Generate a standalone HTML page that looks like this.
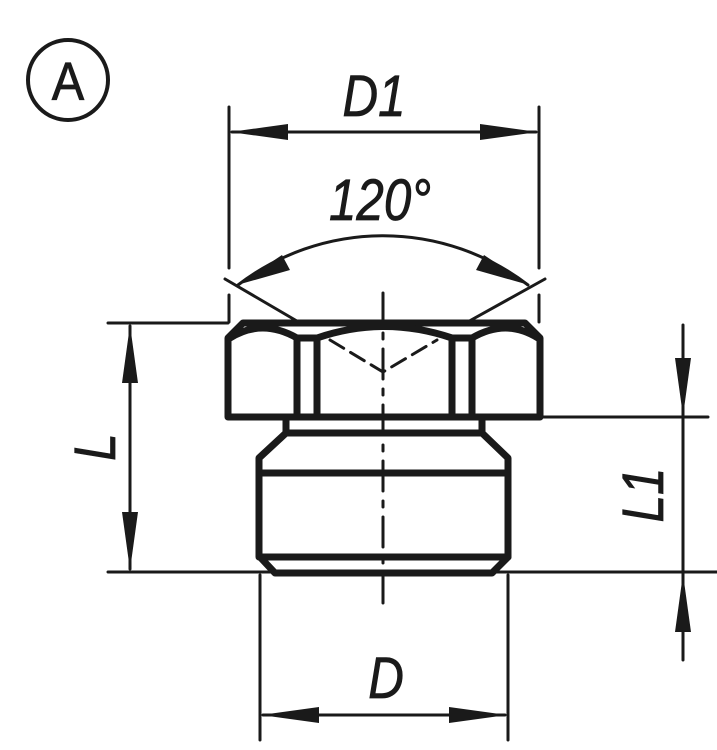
<!DOCTYPE html>
<html><head><style>body{margin:0;background:#fff}svg{display:block}</style></head><body>
<svg width="717" height="750" viewBox="0 0 717 750" xmlns="http://www.w3.org/2000/svg">
<g fill="none" stroke="#1a1a1a" stroke-linecap="round" stroke-linejoin="round">
<circle cx="68" cy="80" r="40" stroke-width="4"/>
<g stroke-width="3">
<line x1="229" y1="107" x2="229" y2="268"/><line x1="229" y1="295" x2="229" y2="322"/>
<line x1="539" y1="107" x2="539" y2="268"/><line x1="539" y1="295" x2="539" y2="322"/>
<line x1="232" y1="132" x2="536" y2="132"/>
<line x1="108" y1="323" x2="228" y2="323"/>
<line x1="108" y1="572" x2="717" y2="572"/>
<line x1="540" y1="417" x2="708" y2="417"/>
<line x1="130" y1="326" x2="130" y2="569"/>
<line x1="683" y1="325" x2="683" y2="660"/>
<line x1="260" y1="575" x2="260" y2="740"/>
<line x1="508" y1="575" x2="508" y2="740"/>
<line x1="263" y1="715" x2="505" y2="715"/>
<line x1="225" y1="279" x2="302" y2="324"/>
<line x1="545" y1="279" x2="464" y2="324"/>
<path d="M238 285 A238 238 0 0 1 528 285"/>
</g>
<g stroke-width="7">
<path d="M243 323 L525 323 L540 338 L540 417 L228 417 L228 338 Z"/>
<line x1="297" y1="338" x2="297" y2="417"/><line x1="317" y1="338" x2="317" y2="417"/>
<line x1="452" y1="338" x2="452" y2="417"/><line x1="472" y1="338" x2="472" y2="417"/>
<line x1="297" y1="338" x2="317" y2="338"/><line x1="452" y1="338" x2="472" y2="338"/>
<path d="M230 338 Q262 318 297 338"/>
<path d="M317 338 Q384 315 452 338"/>
<path d="M472 338 Q506 318 538 338"/>
<path d="M286 418 L286 433 L482 433 L482 418"/>
<path d="M286 433 L259 458 L259 557 L508 557 L508 458 L482 433"/>
<line x1="259" y1="473" x2="508" y2="473"/>
<path d="M260 557 L275 573 L492 573 L508 557"/>
</g>
<g stroke-width="3">
<line x1="383" y1="293" x2="383" y2="604" stroke-dasharray="30,10,6,10"/>
<path d="M330 340 L383 372 L437 340" stroke-dasharray="16,8"/>
</g>
</g>
<g fill="#1a1a1a">
<path d="M230 132 L288 124 L288 140 Z"/><path d="M538 132 L480 124 L480 140 Z"/>
<path d="M237 285 L282 255 L290 270 Z"/><path d="M529 285 L484 255 L476 270 Z"/>
<path d="M130 325 L122 383 L138 383 Z"/><path d="M130 570 L122 512 L138 512 Z"/>
<path d="M683 416 L675 358 L691 358 Z"/><path d="M683 574 L675 632 L691 632 Z"/>
<path d="M261 715 L319 707 L319 723 Z"/><path d="M507 715 L449 707 L449 723 Z"/>
</g>
<g font-family="Liberation Sans, sans-serif" font-style="italic" font-size="58" fill="#1a1a1a" stroke="#1a1a1a" stroke-width="0.8" text-anchor="middle">
<text transform="translate(68,100) scale(0.9,1)" font-style="normal" font-size="54">A</text>
<text transform="translate(374,116) scale(0.85,1)">D1</text>
<text transform="translate(380,220) scale(0.85,1)">120°</text>
<text transform="translate(386,698) scale(0.85,1)">D</text>
<text transform="translate(115,447) rotate(-90) scale(0.85,1)">L</text>
<text transform="translate(663,495) rotate(-90) scale(0.85,1)">L1</text>
</g>
</svg>
</body></html>
